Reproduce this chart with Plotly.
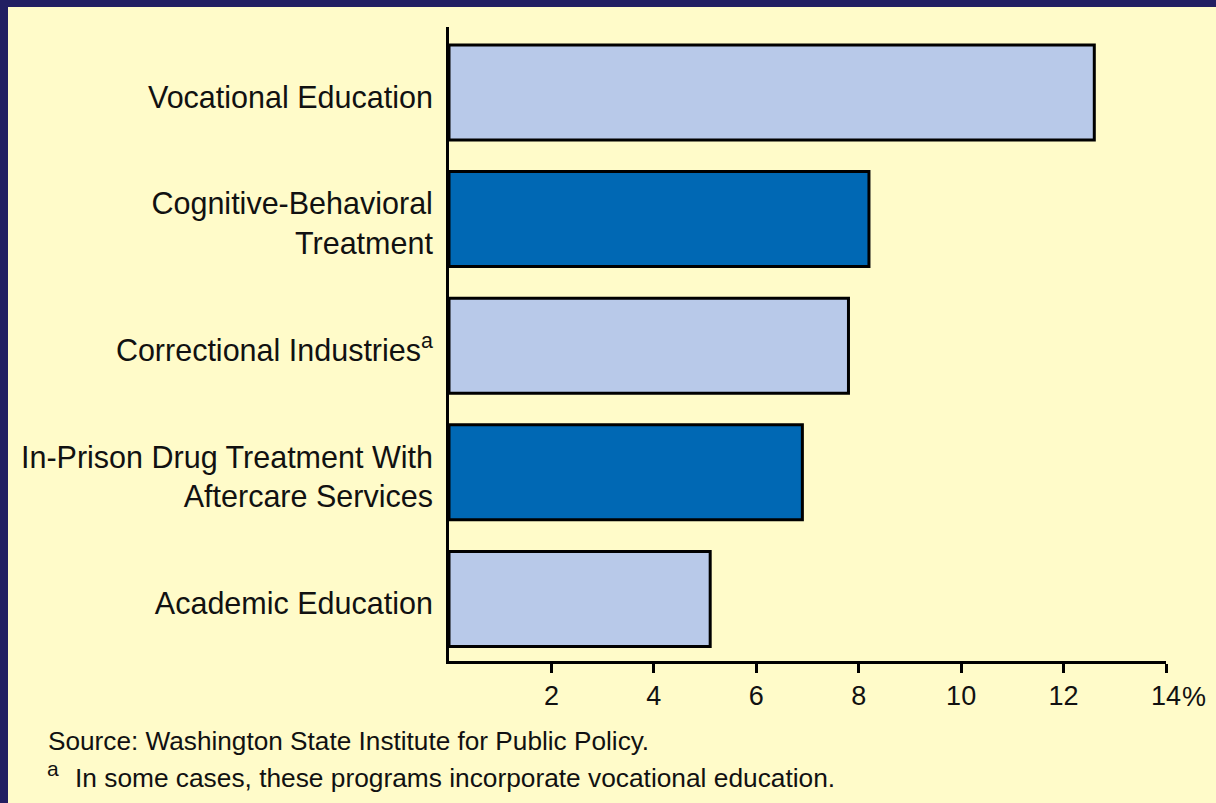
import plotly.graph_objects as go

# ---- data ----
programs = [
    "Vocational Education",
    "Cognitive-Behavioral<br>Treatment",
    "Correctional Industries<sup>a</sup>",
    "In-Prison Drug Treatment With<br>Aftercare Services",
    "Academic Education",
]
reduction_pct = [12.6, 8.2, 7.8, 6.9, 5.1]
bar_colors = ["#b8c9e9", "#0068b4", "#b8c9e9", "#0068b4", "#b8c9e9"]
tick_values = [2, 4, 6, 8, 10, 12, 14]
tick_labels = ["2", "4", "6", "8", "10", "12", "14"]
source_note = "Source: Washington State Institute for Public Policy."
footnote = "In some cases, these programs incorporate vocational education."

# ---- layout geometry (pixels) ----
W, H = 1216, 803
L, R, T, B = 449, 50, 27, 142
PW, PH = W - L - R, H - T - B
LABEL_DROP = 0.035  # category labels sit slightly below bar centres


def px_x(px):
    return (px - L) / PW


def px_y(py):
    return (H - B - py) / PH


FONT = "Liberation Sans, Arial, Helvetica, sans-serif"
BG = "#fffbc9"
NAVY = "#221f62"

ypos = list(range(len(programs)))

fig = go.Figure(
    go.Bar(
        x=reduction_pct,
        y=ypos,
        orientation="h",
        width=0.75,
        marker=dict(color=bar_colors, line=dict(color="#000000", width=3)),
        hoverinfo="skip",
    )
)

fig.update_layout(
    width=W,
    height=H,
    margin=dict(l=L, r=R, t=T, b=B, pad=0),
    paper_bgcolor=BG,
    plot_bgcolor=BG,
    showlegend=False,
    font=dict(family=FONT, color="#111111"),
    xaxis=dict(
        range=[0, 14],
        tickvals=tick_values,
        ticktext=tick_labels,
        showgrid=False,
        zeroline=False,
        showline=True,
        linecolor="#000000",
        linewidth=3,
        ticks="outside",
        ticklen=9,
        tickwidth=2.5,
        tickcolor="#000000",
        tickfont=dict(size=27, family=FONT, color="#111111"),
        ticklabelstandoff=0,
        fixedrange=True,
    ),
    yaxis=dict(
        range=[4.49, -0.517],
        tickvals=[p + LABEL_DROP for p in ypos],
        ticktext=programs,
        showgrid=False,
        zeroline=False,
        showline=True,
        linecolor="#000000",
        linewidth=3,
        ticks="",
        tickfont=dict(size=30.5, family=FONT, color="#111111"),
        ticklabelstandoff=7,
        fixedrange=True,
    ),
    shapes=[
        dict(type="rect", xref="paper", yref="paper",
             x0=px_x(-5), x1=px_x(W + 5), y0=px_y(7), y1=px_y(-5),
             fillcolor=NAVY, line=dict(width=0), layer="above"),
        dict(type="rect", xref="paper", yref="paper",
             x0=px_x(-5), x1=px_x(8), y0=px_y(H + 5), y1=px_y(-5),
             fillcolor=NAVY, line=dict(width=0), layer="above"),
    ],
    annotations=[
        dict(text="%", x=14, y=px_y(697), xref="x", yref="paper",
             xanchor="left", yanchor="middle", xshift=14, showarrow=False,
             font=dict(size=27, family=FONT, color="#111111")),
        dict(text=source_note, x=px_x(46), y=px_y(741), xref="paper", yref="paper",
             xanchor="left", yanchor="middle", showarrow=False,
             font=dict(size=26.2, family=FONT, color="#111111")),
        dict(text="a", x=px_x(45), y=px_y(768), xref="paper", yref="paper",
             xanchor="left", yanchor="middle", showarrow=False,
             font=dict(size=21, family=FONT, color="#111111")),
        dict(text=footnote, x=px_x(73), y=px_y(778), xref="paper", yref="paper",
             xanchor="left", yanchor="middle", showarrow=False,
             font=dict(size=26.3, family=FONT, color="#111111")),
    ],
)

fig.write_html(
    "out.html",
    config={"displayModeBar": False},
    post_script="document.body.style.margin='0';document.body.style.overflow='hidden';",
)
